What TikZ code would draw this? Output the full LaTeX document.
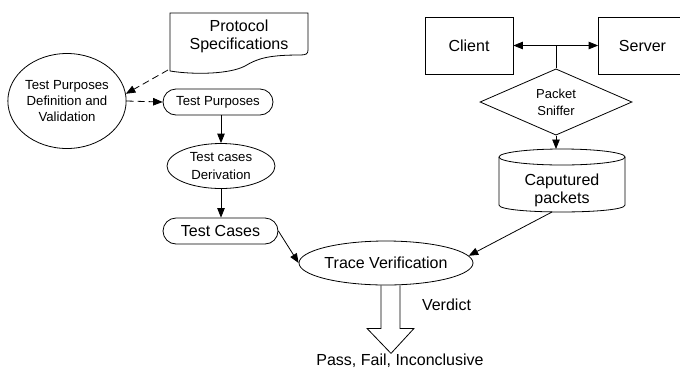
\documentclass[tikz,border=0pt]{standalone}
\usepackage{fontspec}
\setmainfont{Liberation Sans}
\usetikzlibrary{arrows.meta,shapes.geometric}

\begin{document}
\begin{tikzpicture}[x=1bp,y=-1bp,line width=0.8bp,
  big/.style={font=\fontsize{16bp}{18bp}\selectfont,align=center},
  small/.style={font=\fontsize{13.2bp}{16bp}\selectfont,align=center},
  tip/.style={-{Triangle[length=9.5bp,width=7.5bp]}},
  dashline/.style={dash pattern=on 7bp off 4bp},
  pill/.style={draw,rectangle,rounded corners=13bp,minimum height=26bp,inner sep=0pt},
  oval/.style={draw,ellipse,inner sep=0pt},
  hostbox/.style={draw,rectangle,minimum width=88bp,minimum height=57bp,inner sep=0pt},
]
\useasboundingbox (0,0) rectangle (680,367);

% protocol specification document
\draw (170,71) -- (170,13) -- (308,13) -- (308,50)
  .. controls (308,54) and (306,55) .. (300,55)
  .. controls (270,55) and (258,58) .. (245,66)
  .. controls (230,74) and (195,75) .. (170,71);
\node[big] (spec) at (239,36) {Protocol\\Specifications};
\coordinate (specfoot) at (168,70);

% test purpose / test case chain
\node[oval,small,minimum width=110bp,minimum height=95bp] (tpdv) at (67,101)
  {Test Purposes\\Definition and\\Validation};
\node[pill,small,minimum width=110bp] (tp) at (218,102) {Test Purposes};
\node[oval,font=\fontsize{13.2bp}{18bp}\selectfont,align=center,
  minimum width=108bp,minimum height=45bp] (der) at (221,166) {Test cases\\Derivation};
\node[pill,big,minimum width=115bp] (tc) at (220.5,231) {Test Cases};
\node[oval,big,minimum width=138bp,minimum height=44bp] (tv) at (386,263) {Trace Verification};

% network side
\node[hostbox,big] (cl) at (469,45.5) {Client};
\node[hostbox,big] (sv) at (642.5,45.5) {Server};
\node[draw,diamond,inner sep=0pt,minimum width=152bp,minimum height=56bp,
  font=\fontsize{13bp}{17bp}\selectfont,align=center] (ps) at (556,102) {Packet\\Sniffer};

% captured packets store
\draw (499,157) -- (499,205) .. controls (499,214.3) and (625,214.3) .. (625,205) -- (625,157);
\draw (562,157) ellipse [x radius=63,y radius=8];
\node[big] (cap) at (562,190) {Caputured\\packets};
\coordinate (captop) at (557,149);
\coordinate (capbot) at (552,212);

% connectors
\draw[tip,dashline] (specfoot) -- (tpdv.7);
\draw[tip,dashline] (tpdv.east) -- (tp.west);
\draw[tip] (der.north |- tp.south) -- (der.north);
\draw[tip] (der.south) -- (der.south |- tc.north);
\draw[tip] (tc.east) -- (tv.west);
\draw[tip] (capbot) -- (tv.5);
\draw[tip] (ps.south) -- (ps.south |- captop);
\draw[{Triangle[length=9.5bp,width=7.5bp]}-{Triangle[length=9.5bp,width=7.5bp]}] (cl.east) -- (sv.west);
\draw (ps.north) -- (ps.north |- cl.east);

% verdict block arrow
\draw ([xshift=-5bp]tv.south) -- ++(0,43) -- ++(-14,0) -- ++(24,25) -- ++(23,-25) -- ++(-14,0) -- ++(0,-43);
\node[big] (vd) at (446.5,304.5) {Verdict};
\node[big,anchor=base] (res) at (400,365) {Pass, Fail, Inconclusive};
\end{tikzpicture}
\end{document}
